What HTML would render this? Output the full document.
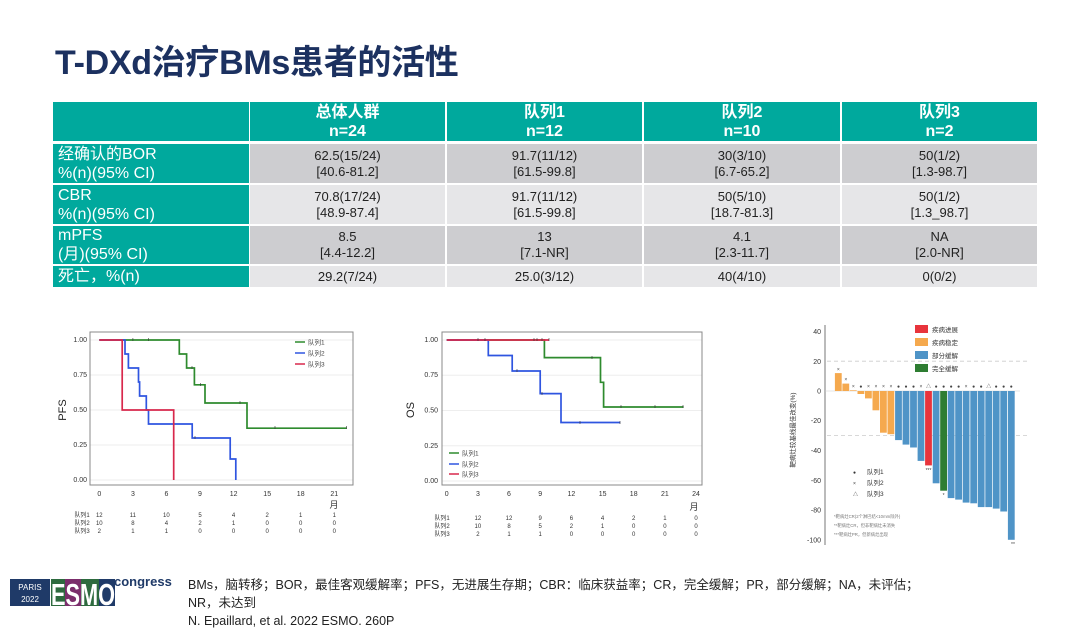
<!DOCTYPE html>
<html><head><meta charset="utf-8"><style>
body{margin:0;width:1080px;height:629px;background:#fff;position:relative;overflow:hidden;font-family:"Liberation Sans","Noto Sans CJK SC",sans-serif;}
.a{position:absolute;}
.c{position:absolute;display:flex;flex-direction:column;justify-content:center;align-items:center;text-align:center;font-size:13px;line-height:16px;color:#222;}
.h{background:#00a99d;color:#fff;font-weight:bold;font-size:16px;line-height:19px;}
.l{position:absolute;background:#00a99d;color:#fff;font-size:16px;line-height:19px;padding-left:5px;box-sizing:border-box;display:flex;flex-direction:column;justify-content:center;}
.d{background:#cdcdd0}.e{background:#e6e6e8}
</style></head><body>
<div class="a" style="left:55px;top:35px;font-size:34px;font-weight:bold;color:#1c3160;letter-spacing:-0.3px;">T-DXd治疗BMs患者的活性</div>

<div class="l" style="left:53px;top:102px;width:196px;height:39px;"></div>
<div class="c h" style="left:250px;top:102px;width:195px;height:39px;"><div>总体人群</div><div>n=24</div></div>
<div class="c h" style="left:447px;top:102px;width:195px;height:39px;"><div>队列1</div><div>n=12</div></div>
<div class="c h" style="left:644px;top:102px;width:196px;height:39px;"><div>队列2</div><div>n=10</div></div>
<div class="c h" style="left:842px;top:102px;width:195px;height:39px;"><div>队列3</div><div>n=2</div></div>

<div class="l" style="left:53px;top:144px;width:196px;height:39px;"><div>经确认的BOR</div><div>%(n)(95% CI)</div></div>
<div class="c d" style="left:250px;top:144px;width:195px;height:39px;"><div>62.5(15/24)</div><div>[40.6-81.2]</div></div>
<div class="c d" style="left:447px;top:144px;width:195px;height:39px;"><div>91.7(11/12)</div><div>[61.5-99.8]</div></div>
<div class="c d" style="left:644px;top:144px;width:196px;height:39px;"><div>30(3/10)</div><div>[6.7-65.2]</div></div>
<div class="c d" style="left:842px;top:144px;width:195px;height:39px;"><div>50(1/2)</div><div>[1.3-98.7]</div></div>

<div class="l" style="left:53px;top:185px;width:196px;height:39px;"><div>CBR</div><div>%(n)(95% CI)</div></div>
<div class="c e" style="left:250px;top:185px;width:195px;height:39px;"><div>70.8(17/24)</div><div>[48.9-87.4]</div></div>
<div class="c e" style="left:447px;top:185px;width:195px;height:39px;"><div>91.7(11/12)</div><div>[61.5-99.8]</div></div>
<div class="c e" style="left:644px;top:185px;width:196px;height:39px;"><div>50(5/10)</div><div>[18.7-81.3]</div></div>
<div class="c e" style="left:842px;top:185px;width:195px;height:39px;"><div>50(1/2)</div><div>[1.3_98.7]</div></div>

<div class="l" style="left:53px;top:226px;width:196px;height:38px;"><div>mPFS</div><div>(月)(95% CI)</div></div>
<div class="c d" style="left:250px;top:226px;width:195px;height:38px;"><div>8.5</div><div>[4.4-12.2]</div></div>
<div class="c d" style="left:447px;top:226px;width:195px;height:38px;"><div>13</div><div>[7.1-NR]</div></div>
<div class="c d" style="left:644px;top:226px;width:196px;height:38px;"><div>4.1</div><div>[2.3-11.7]</div></div>
<div class="c d" style="left:842px;top:226px;width:195px;height:38px;"><div>NA</div><div>[2.0-NR]</div></div>

<div class="l" style="left:53px;top:266px;width:196px;height:21px;"><div>死亡，%(n)</div></div>
<div class="c e" style="left:250px;top:266px;width:195px;height:21px;">29.2(7/24)</div>
<div class="c e" style="left:447px;top:266px;width:195px;height:21px;">25.0(3/12)</div>
<div class="c e" style="left:644px;top:266px;width:196px;height:21px;">40(4/10)</div>
<div class="c e" style="left:842px;top:266px;width:195px;height:21px;">0(0/2)</div>

<svg class="a" style="left:0;top:0" width="1080" height="629" font-family="Liberation Sans, Noto Sans CJK SC, sans-serif">
<g stroke="#eee" stroke-width="1"><line x1="90" x2="353" y1="340" y2="340"/><line x1="90" x2="353" y1="375" y2="375"/><line x1="90" x2="353" y1="410" y2="410"/><line x1="90" x2="353" y1="445" y2="445"/><line x1="90" x2="353" y1="480" y2="480"/></g>
<rect x="90" y="332" width="263" height="153" fill="none" stroke="#888"/>
<g font-size="7" fill="#333" text-anchor="end"><text x="87" y="342">1.00</text><text x="87" y="377">0.75</text><text x="87" y="412">0.50</text><text x="87" y="447">0.25</text><text x="87" y="482">0.00</text></g>
<text x="66" y="410" font-size="11" transform="rotate(-90 66 410)" text-anchor="middle" fill="#222">PFS</text>
<g font-size="7" fill="#333" text-anchor="middle"><text x="99.3" y="496">0</text><text x="132.9" y="496">3</text><text x="166.4" y="496">6</text><text x="200" y="496">9</text><text x="233.6" y="496">12</text><text x="267.2" y="496">15</text><text x="300.7" y="496">18</text><text x="334.3" y="496">21</text><text x="334" y="508" font-size="9">月</text></g>
<g font-size="6" fill="#333" text-anchor="middle">
<text x="82" y="517">队列1</text><text x="99.3" y="517">12</text><text x="132.9" y="517">11</text><text x="166.4" y="517">10</text><text x="200" y="517">5</text><text x="233.6" y="517">4</text><text x="267.2" y="517">2</text><text x="300.7" y="517">1</text><text x="334.3" y="517">1</text>
<text x="82" y="525">队列2</text><text x="99.3" y="525">10</text><text x="132.9" y="525">8</text><text x="166.4" y="525">4</text><text x="200" y="525">2</text><text x="233.6" y="525">1</text><text x="267.2" y="525">0</text><text x="300.7" y="525">0</text><text x="334.3" y="525">0</text>
<text x="82" y="533">队列3</text><text x="99.3" y="533">2</text><text x="132.9" y="533">1</text><text x="166.4" y="533">1</text><text x="200" y="533">0</text><text x="233.6" y="533">0</text><text x="267.2" y="533">0</text><text x="300.7" y="533">0</text><text x="334.3" y="533">0</text></g>
<g fill="none" stroke-width="1.7">
<path d="M99.3 340H179.3V354H186.6V368H194.4V384.8H205V403H247V428.2H346.6" stroke="#2e8b2e"/>
<path d="M99.3 340H125V354H128.4V368H138.5V382H139.6V396H146.3V410H148.5V424H192.2V438H230.2V459H235.8V480" stroke="#2f55e0"/>
<path d="M99.3 340H122.2V410H173.7V480" stroke="#d8284c"/>
</g>
<g stroke="#333" stroke-width="0.6"><path d="M132.9 338v3M148.5 338v3M192 366v3M200.4 383v3M240 401v3M275 426v3M346.6 426v3M195 436v3"/></g>
<g font-size="6.5" fill="#444"><line x1="295" x2="305" y1="342" y2="342" stroke="#2e8b2e" stroke-width="1.5"/><text x="308" y="344.5">队列1</text><line x1="295" x2="305" y1="353" y2="353" stroke="#2f55e0" stroke-width="1.5"/><text x="308" y="355.5">队列2</text><line x1="295" x2="305" y1="364" y2="364" stroke="#d8284c" stroke-width="1.5"/><text x="308" y="366.5">队列3</text></g>

<g stroke="#eee" stroke-width="1"><line x1="442" x2="702" y1="340" y2="340"/><line x1="442" x2="702" y1="375.25" y2="375.25"/><line x1="442" x2="702" y1="410.5" y2="410.5"/><line x1="442" x2="702" y1="445.75" y2="445.75"/><line x1="442" x2="702" y1="481" y2="481"/></g>
<rect x="442" y="332" width="260" height="153" fill="none" stroke="#888"/>
<g font-size="7" fill="#333" text-anchor="end"><text x="438" y="342">1.00</text><text x="438" y="377">0.75</text><text x="438" y="412.5">0.50</text><text x="438" y="448">0.25</text><text x="438" y="483">0.00</text></g>
<text x="414" y="410" font-size="11" transform="rotate(-90 414 410)" text-anchor="middle" fill="#222">OS</text>
<g font-size="7" fill="#333" text-anchor="middle"><text x="446.7" y="496">0</text><text x="477.9" y="496">3</text><text x="509" y="496">6</text><text x="540.2" y="496">9</text><text x="571.4" y="496">12</text><text x="602.6" y="496">15</text><text x="633.7" y="496">18</text><text x="664.9" y="496">21</text><text x="696" y="496">24</text><text x="694" y="510" font-size="9">月</text></g>
<g font-size="6" fill="#333" text-anchor="middle">
<text x="442" y="520">队列1</text><text x="477.9" y="520">12</text><text x="509" y="520">12</text><text x="540.2" y="520">9</text><text x="571.4" y="520">6</text><text x="602.6" y="520">4</text><text x="633.7" y="520">2</text><text x="664.9" y="520">1</text><text x="696" y="520">0</text>
<text x="442" y="528">队列2</text><text x="477.9" y="528">10</text><text x="509" y="528">8</text><text x="540.2" y="528">5</text><text x="571.4" y="528">2</text><text x="602.6" y="528">1</text><text x="633.7" y="528">0</text><text x="664.9" y="528">0</text><text x="696" y="528">0</text>
<text x="442" y="536">队列3</text><text x="477.9" y="536">2</text><text x="509" y="536">1</text><text x="540.2" y="536">1</text><text x="571.4" y="536">0</text><text x="602.6" y="536">0</text><text x="633.7" y="536">0</text><text x="664.9" y="536">0</text><text x="696" y="536">0</text></g>
<g fill="none" stroke-width="1.7">
<path d="M446.7 340H544.4V357.6H600.5V382.3H603.6V407H683.6" stroke="#2e8b2e"/>
<path d="M446.7 340H488.3V355.5H512.2V371H540.2V393.6H561V422.5H620.2" stroke="#2f55e0"/>
<path d="M446.7 340H549" stroke="#d8284c"/>
</g>
<g stroke="#333" stroke-width="0.6"><path d="M478 338v3M485 338v3M534 338v3M537 338v3M542 338v3M549 338v3M592 356v3M621 405v3M655 405v3M683 405v3M517 369v3M542 392v3M580 421v3M620 421v3"/></g>
<g font-size="6.5" fill="#444"><line x1="449" x2="459" y1="453" y2="453" stroke="#2e8b2e" stroke-width="1.5"/><text x="462" y="455.5">队列1</text><line x1="449" x2="459" y1="464" y2="464" stroke="#2f55e0" stroke-width="1.5"/><text x="462" y="466.5">队列2</text><line x1="449" x2="459" y1="474" y2="474" stroke="#d8284c" stroke-width="1.5"/><text x="462" y="476.5">队列3</text></g>

<line x1="825" x2="825" y1="325" y2="545" stroke="#555" stroke-width="0.8"/>
<line x1="825" x2="1020" y1="391" y2="391" stroke="#ccc" stroke-width="0.6"/>
<g stroke="#ccc" stroke-dasharray="4 3" stroke-width="0.8"><line x1="827" x2="1030" y1="361.2" y2="361.2"/><line x1="827" x2="1030" y1="435.6" y2="435.6"/></g>
<g font-size="7" fill="#333" text-anchor="end"><text x="821" y="334">40</text><text x="821" y="364">20</text><text x="821" y="393.5">0</text><text x="821" y="423">-20</text><text x="821" y="453">-40</text><text x="821" y="483">-60</text><text x="821" y="512.5">-80</text><text x="821" y="542.5">-100</text></g>
<text x="795" y="430" font-size="6.5" fill="#333" transform="rotate(-90 795 430)" text-anchor="middle">靶病灶较基线最佳改变(%)</text>
<g fill="#f5a94e">
<rect x="834.9" y="373.1" width="6.8" height="17.9"/><rect x="842.4" y="383.6" width="6.8" height="7.4"/><rect x="849.9" y="390.3" width="6.8" height="0.7"/><rect x="857.5" y="391" width="6.8" height="3"/><rect x="865" y="391" width="6.8" height="7.4"/><rect x="872.5" y="391" width="6.8" height="19.3"/><rect x="880" y="391" width="6.8" height="41.7"/><rect x="887.5" y="391" width="6.8" height="43.2"/></g>
<g fill="#4f94c7">
<rect x="895.1" y="391" width="6.8" height="49.1"/><rect x="902.6" y="391" width="6.8" height="53.6"/><rect x="910.1" y="391" width="6.8" height="56.5"/><rect x="917.6" y="391" width="6.8" height="69.9"/>
<rect x="932.7" y="391" width="6.8" height="92.3"/>
<rect x="947.7" y="391" width="6.8" height="107.1"/><rect x="955.2" y="391" width="6.8" height="108.6"/><rect x="962.7" y="391" width="6.8" height="111.6"/><rect x="970.3" y="391" width="6.8" height="112.3"/><rect x="977.8" y="391" width="6.8" height="116.1"/><rect x="985.3" y="391" width="6.8" height="116.1"/><rect x="992.8" y="391" width="6.8" height="117.6"/><rect x="1000.3" y="391" width="6.8" height="120.5"/><rect x="1007.9" y="391" width="6.8" height="148.8"/></g>
<rect x="925.1" y="391" width="6.8" height="74.4" fill="#e8343c"/>
<rect x="940.2" y="391" width="6.8" height="99.7" fill="#2e7d32"/>
<g font-size="5" fill="#444" text-anchor="middle">
<text x="838.3" y="371">×</text><text x="845.8" y="381">×</text>
<text x="853.3" y="388">×</text><text x="860.9" y="388">●</text><text x="868.4" y="388">×</text><text x="875.9" y="388">×</text><text x="883.4" y="388">×</text><text x="890.9" y="388">×</text><text x="898.5" y="388">●</text><text x="906" y="388">●</text><text x="913.5" y="388">●</text><text x="921" y="388">×</text><text x="928.5" y="388">△</text><text x="936.1" y="388">●</text><text x="943.6" y="388">●</text><text x="951.1" y="388">●</text><text x="958.6" y="388">●</text><text x="966.1" y="388">×</text><text x="973.7" y="388">●</text><text x="981.2" y="388">●</text><text x="988.7" y="388">△</text><text x="996.2" y="388">●</text><text x="1003.7" y="388">●</text><text x="1011.3" y="388">●</text>
<text x="928.5" y="472">***</text><text x="943.6" y="497">*</text><text x="1013" y="546">**</text></g>
<g font-size="6.5" fill="#333">
<rect x="915" y="325" width="13" height="8" fill="#e8343c"/><text x="932" y="332">疾病进展</text>
<rect x="915" y="338" width="13" height="8" fill="#f5a94e"/><text x="932" y="345">疾病稳定</text>
<rect x="915" y="351" width="13" height="8" fill="#4f94c7"/><text x="932" y="358">部分缓解</text>
<rect x="915" y="364" width="13" height="8" fill="#2e7d32"/><text x="932" y="371">完全缓解</text>
<text x="853" y="474" font-size="5">●</text><text x="867" y="474">队列1</text>
<text x="853" y="485" font-size="5">×</text><text x="867" y="485">队列2</text>
<text x="853" y="496" font-size="5">△</text><text x="867" y="496">队列3</text></g>
<g font-size="4.3" fill="#777"><text x="834" y="518">*靶病灶CR(2个淋巴结&lt;10mm除外)</text><text x="834" y="527">**靶病灶CR，但非靶病灶未消失</text><text x="834" y="536">***靶病灶PR，但新病灶出现</text></g>

<rect x="10" y="579" width="40" height="27" fill="#1f3a68"/>
<text x="30" y="590" font-size="8" fill="#fff" text-anchor="middle">PARIS</text>
<text x="30" y="602" font-size="8" fill="#fff" text-anchor="middle">2022</text>
<rect x="51" y="579" width="14" height="27" fill="#2d6a3e"/>
<rect x="65" y="579" width="16" height="27" fill="#7b2d6b"/>
<rect x="81" y="579" width="18" height="27" fill="#2d6a3e"/>
<rect x="99" y="579" width="16" height="27" fill="#1f3a68"/>
<text x="51" y="605" font-size="31" font-weight="bold" fill="#fff" textLength="64" lengthAdjust="spacingAndGlyphs">ESMO</text>
<text x="114" y="586" font-size="13" font-weight="bold" fill="#1f3a68">congress</text>
<g font-size="12.5" fill="#222"><text x="188" y="589">BMs，脑转移；BOR，最佳客观缓解率；PFS，无进展生存期；CBR：临床获益率；CR，完全缓解；PR，部分缓解；NA，未评估；</text><text x="188" y="607">NR，未达到</text><text x="188" y="625">N. Epaillard, et al. 2022 ESMO. 260P</text></g>
</svg>
</body></html>
